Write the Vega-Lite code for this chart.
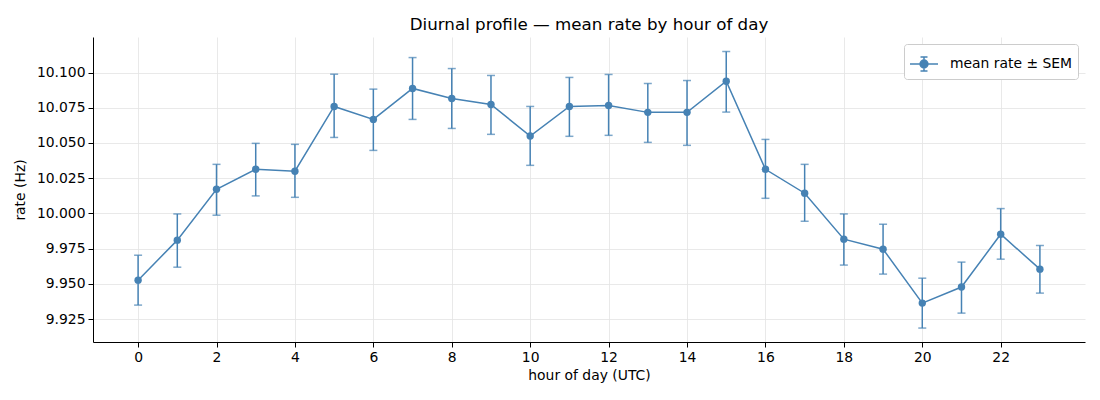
{
  "$schema": "https://vega.github.io/schema/vega-lite/v6.json",
  "width": 992,
  "height": 305,
  "autosize": "none",
  "padding": {"left": 93, "top": 37, "right": 15, "bottom": 58},
  "background": "white",
  "title": {"text": "Diurnal profile — mean rate by hour of day", "fontSize": 16.7, "fontWeight": "normal", "font": "DejaVu Sans", "color": "black", "offset": 3},
  "config": {
    "view": {"stroke": null},
    "axis": {
      "domainColor": "black", "domainWidth": 1, "tickColor": "black", "tickSize": 5, "tickWidth": 1,
      "labelColor": "black", "labelFont": "DejaVu Sans", "labelFontSize": 13.9, "labelPadding": 3,
      "titleColor": "black", "titleFont": "DejaVu Sans", "titleFontSize": 13.9, "titleFontWeight": "normal",
      "gridColor": "#e3e3e3", "gridWidth": 0.8
    }
  },
  "data": {"values": [
    {"hour": 0, "mean": 9.9526, "lo": 9.9349, "hi": 9.9703, "series": "mean rate ± SEM"},
    {"hour": 1, "mean": 9.9810, "lo": 9.9618, "hi": 9.9996, "series": "mean rate ± SEM"},
    {"hour": 2, "mean": 10.0171, "lo": 9.9987, "hi": 10.0348, "series": "mean rate ± SEM"},
    {"hour": 3, "mean": 10.0313, "lo": 10.0124, "hi": 10.0497, "series": "mean rate ± SEM"},
    {"hour": 4, "mean": 10.0299, "lo": 10.0114, "hi": 10.0490, "series": "mean rate ± SEM"},
    {"hour": 5, "mean": 10.0759, "lo": 10.0539, "hi": 10.0988, "series": "mean rate ± SEM"},
    {"hour": 6, "mean": 10.0667, "lo": 10.0447, "hi": 10.0882, "series": "mean rate ± SEM"},
    {"hour": 7, "mean": 10.0887, "lo": 10.0667, "hi": 10.1106, "series": "mean rate ± SEM"},
    {"hour": 8, "mean": 10.0816, "lo": 10.0603, "hi": 10.1028, "series": "mean rate ± SEM"},
    {"hour": 9, "mean": 10.0773, "lo": 10.0561, "hi": 10.0979, "series": "mean rate ± SEM"},
    {"hour": 10, "mean": 10.0549, "lo": 10.0341, "hi": 10.0759, "series": "mean rate ± SEM"},
    {"hour": 11, "mean": 10.0759, "lo": 10.0547, "hi": 10.0965, "series": "mean rate ± SEM"},
    {"hour": 12, "mean": 10.0766, "lo": 10.0554, "hi": 10.0986, "series": "mean rate ± SEM"},
    {"hour": 13, "mean": 10.0717, "lo": 10.0504, "hi": 10.0922, "series": "mean rate ± SEM"},
    {"hour": 14, "mean": 10.0717, "lo": 10.0483, "hi": 10.0943, "series": "mean rate ± SEM"},
    {"hour": 15, "mean": 10.0938, "lo": 10.0719, "hi": 10.1149, "series": "mean rate ± SEM"},
    {"hour": 16, "mean": 10.0313, "lo": 10.0107, "hi": 10.0525, "series": "mean rate ± SEM"},
    {"hour": 17, "mean": 10.0143, "lo": 9.9944, "hi": 10.0348, "series": "mean rate ± SEM"},
    {"hour": 18, "mean": 9.9817, "lo": 9.9633, "hi": 9.9996, "series": "mean rate ± SEM"},
    {"hour": 19, "mean": 9.9746, "lo": 9.9569, "hi": 9.9923, "series": "mean rate ± SEM"},
    {"hour": 20, "mean": 9.9363, "lo": 9.9186, "hi": 9.9540, "series": "mean rate ± SEM"},
    {"hour": 21, "mean": 9.9477, "lo": 9.9292, "hi": 9.9654, "series": "mean rate ± SEM"},
    {"hour": 22, "mean": 9.9852, "lo": 9.9675, "hi": 10.0034, "series": "mean rate ± SEM"},
    {"hour": 23, "mean": 9.9604, "lo": 9.9434, "hi": 9.9772, "series": "mean rate ± SEM"}
  ]},
  "encoding": {
    "x": {"field": "hour", "type": "quantitative",
      "scale": {"domain": [-1.15, 24.15], "nice": false, "zero": false},
      "axis": {"title": "hour of day (UTC)", "values": [0,2,4,6,8,10,12,14,16,18,20,22], "format": "d", "grid": true, "titlePadding": 5}}
  },
  "layer": [
    {
      "mark": {"type": "rule", "color": "#4682b4", "strokeWidth": 1.5},
      "encoding": {
        "y": {"field": "lo", "type": "quantitative",
          "scale": {"domain": [9.9087, 10.1252], "nice": false, "zero": false},
          "axis": {"title": "rate (Hz)", "values": [9.925, 9.95, 9.975, 10.0, 10.025, 10.05, 10.075, 10.1], "format": ".3f", "grid": true, "titlePadding": 9}},
        "y2": {"field": "hi"}
      }
    },
    {
      "mark": {"type": "tick", "orient": "horizontal", "color": "#4682b4", "size": 8, "thickness": 1.5},
      "encoding": {"y": {"field": "lo", "type": "quantitative"}}
    },
    {
      "mark": {"type": "tick", "orient": "horizontal", "color": "#4682b4", "size": 8, "thickness": 1.5},
      "encoding": {"y": {"field": "hi", "type": "quantitative"}}
    },
    {
      "mark": {"type": "line", "strokeWidth": 1.5},
      "encoding": {
        "y": {"field": "mean", "type": "quantitative"},
        "color": {"field": "series", "type": "nominal", "scale": {"range": ["#4682b4"]},
          "legend": {"title": null, "orient": "top-right", "offset": 7, "padding": 5,
            "symbolType": "M-1,0L1,0M-0.25,-0.5L0.25,-0.5M0,-0.5L0,0.5M-0.25,0.5L0.25,0.5M0.28,0A0.28,0.28,0,1,1,-0.28,0A0.28,0.28,0,1,1,0.28,0Z",
            "symbolSize": 784, "symbolStrokeWidth": 1.5, "symbolFillColor": "#4682b4", "symbolStrokeColor": "#4682b4",
            "labelFont": "DejaVu Sans", "labelFontSize": 13.9, "labelColor": "black", "labelOffset": 11,
            "strokeColor": "#cccccc", "fillColor": "white", "cornerRadius": 3}}
      }
    },
    {
      "mark": {"type": "point", "filled": true, "opacity": 1, "size": 55, "color": "#4682b4"},
      "encoding": {"y": {"field": "mean", "type": "quantitative"}}
    }
  ]
}
